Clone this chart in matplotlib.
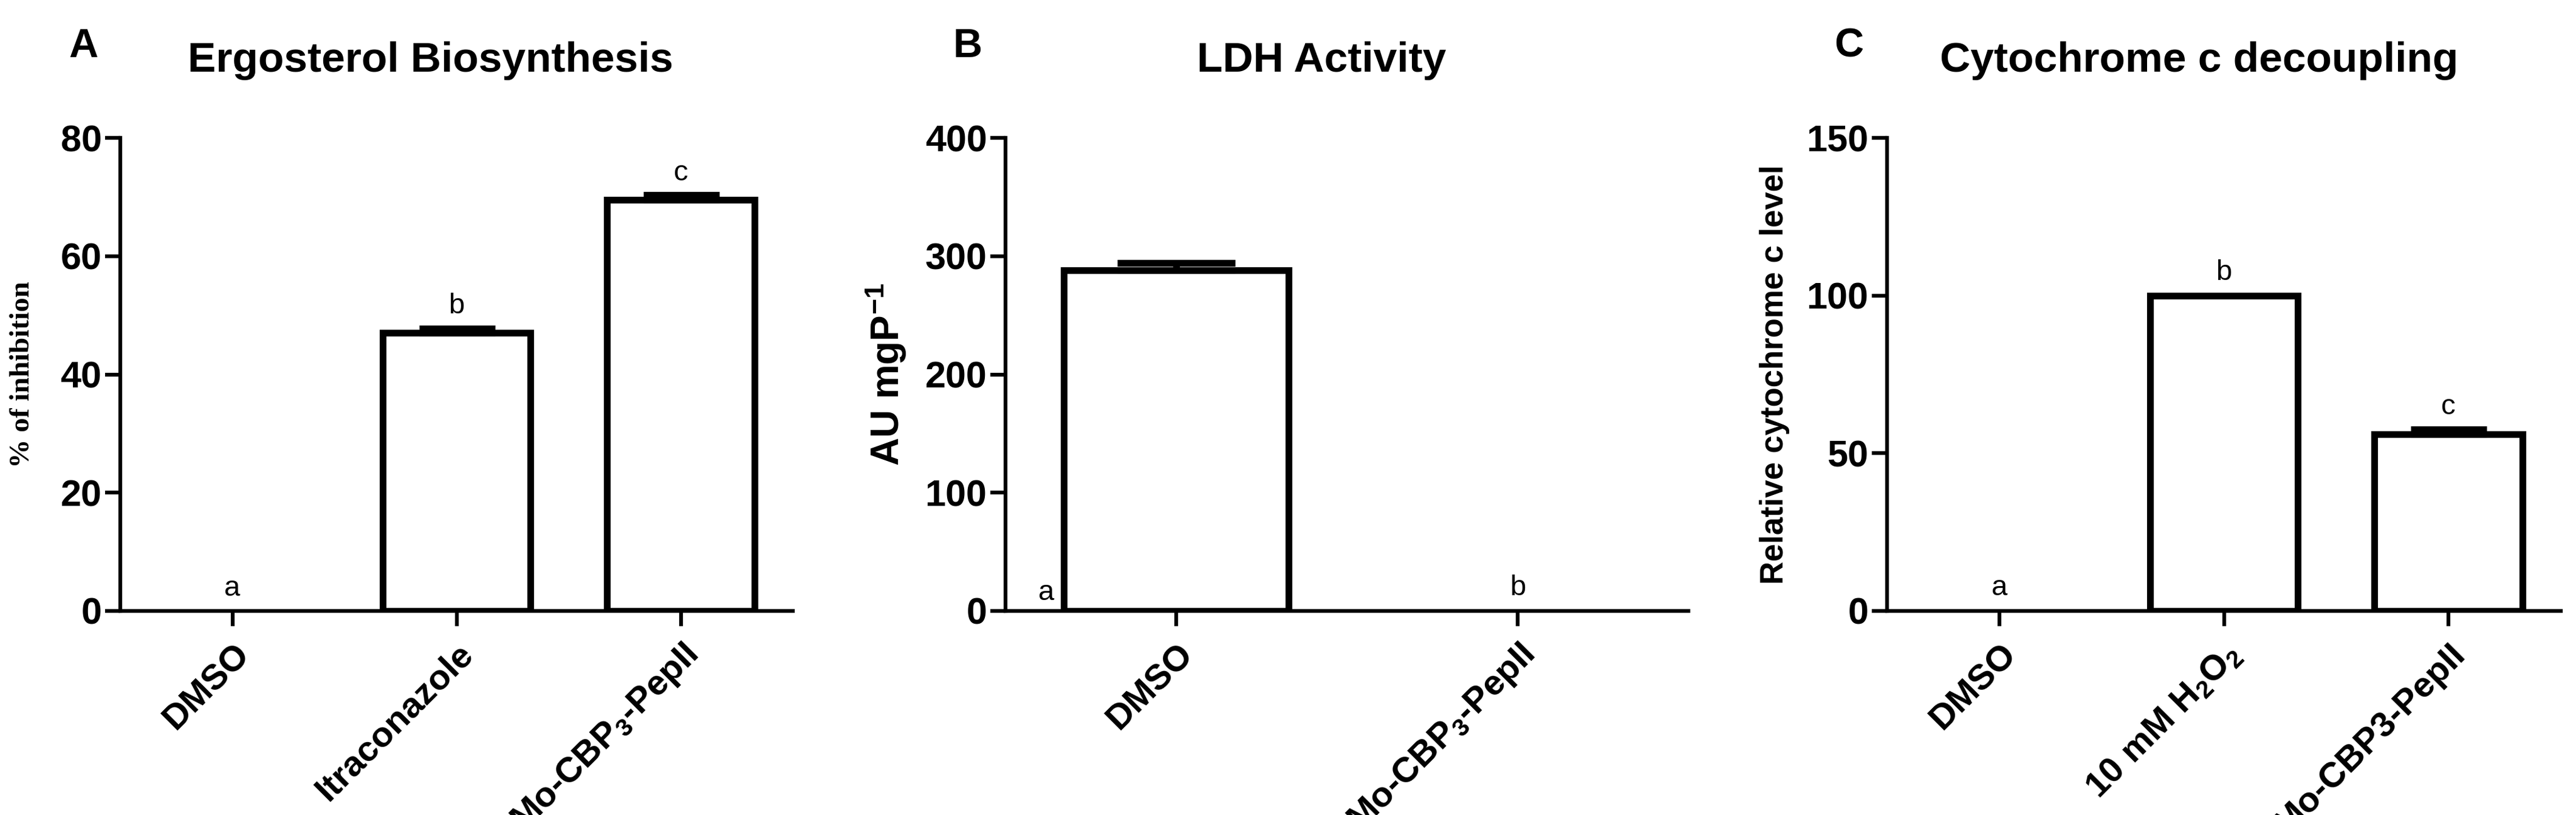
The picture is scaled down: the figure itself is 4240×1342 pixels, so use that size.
import matplotlib
matplotlib.use("Agg")
import matplotlib.pyplot as plt

plt.rcParams['font.family'] = ['Liberation Sans', 'DejaVu Sans']
plt.rcParams['mathtext.fontset'] = 'custom'
plt.rcParams['mathtext.rm'] = 'Liberation Sans:bold'
plt.rcParams['mathtext.it'] = 'Liberation Sans:bold'
plt.rcParams['mathtext.bf'] = 'Liberation Sans:bold'
plt.rcParams['mathtext.default'] = 'rm'

a_cats = ["DMSO", "Itraconazole", "Mo-CBP$_3$-PepII"]
a_vals = [0, 47, 69.5]
a_err = [0, 0.8, 0.8]
a_sig = ["a", "b", "c"]

b_cats = ["DMSO", "Mo-CBP$_3$-PepII"]
b_vals = [288, 0]
b_err = [6, 0]
b_sig = ["a", "b"]

c_cats = ["DMSO", "10 mM H$_2$O$_2$", "Mo-CBP3-PepII"]
c_vals = [0, 100, 56]
c_err = [0, 0, 1.5]
c_sig = ["a", "b", "c"]

W, H = 4240, 1342
fig = plt.figure(figsize=(W/100, H/100), dpi=100)

def mk(l, r):
    return fig.add_axes([l/W, 1-1006/H, (r-l)/W, (1006-227)/H])

LW = 8
def panel(ax, cats, vals, err, sig, ymax, step, sigoff, capsize):
    x = list(range(len(cats)))
    bx = [xi for xi, v in zip(x, vals) if v > 0]
    bv = [v for v in vals if v > 0]
    ax.bar(bx, bv, width=0.66, facecolor='white', edgecolor='black', linewidth=LW, zorder=2)
    for xi, v, e in zip(x, vals, err):
        if e > 0:
            ax.errorbar([xi], [v], yerr=[[0], [e]], fmt='none', ecolor='black',
                        elinewidth=LW, capsize=capsize, capthick=LW, zorder=3)
    ax.set_xlim(-0.5, len(cats)-0.5)
    ax.set_ylim(0, ymax)
    ax.set_yticks(range(0, ymax+1, step))
    ax.set_xticks(x)
    ax.set_xticklabels(cats, rotation=45, ha='right', rotation_mode='anchor',
                       fontsize=42, fontweight='bold')
    for lab in ax.get_yticklabels():
        lab.set_fontsize(44); lab.set_fontweight('bold')
    for s in ['top', 'right']:
        ax.spines[s].set_visible(False)
    for s in ['left', 'bottom']:
        ax.spines[s].set_linewidth(4.5)
    ax.tick_params(axis='both', width=4.5, length=18, pad=4)
    ax.tick_params(axis='x', pad=14)
    for xi, v, e, s in zip(x, vals, err, sig):
        ax.text(xi, v + e + sigoff, s, ha='center', va='bottom', fontsize=34)

axA = mk(198, 1305)
panel(axA, a_cats, a_vals, a_err, a_sig, 80, 20, 1.5, 45)
axA.set_ylabel("% of inhibition", family=['Liberation Serif'], fontweight='bold', fontsize=34, labelpad=30)

axB = mk(1655, 2779)
panel(axB, b_cats, b_vals, b_err, b_sig, 400, 100, 8, 70)
axB.texts[0].set_x(-0.38)
axB.texts[0].set_y(4)
axB.set_ylabel("AU mgP$^{\\mathregular{-1}}$", fontweight='bold', fontsize=46, labelpad=20)

axC = mk(3106, 4215)
panel(axC, c_cats, c_vals, c_err, c_sig, 150, 50, 3, 45)
axC.set_ylabel("Relative cytochrome c level", fontweight='bold', fontsize=38, labelpad=20)

for lx, tx, letter, title in [(137, 709, "A", "Ergosterol Biosynthesis"),
                              (1593, 2175, "B", "LDH Activity"),
                              (3043, 3620, "C", "Cytochrome c decoupling")]:
    fig.text(lx/W, 1-77/H, letter, fontsize=48, fontweight='bold', ha='center', va='center')
    fig.text(tx/W, 1-100/H, title, fontsize=50, fontweight='bold', ha='center', va='center')

fig.savefig("out.png", dpi=100)
